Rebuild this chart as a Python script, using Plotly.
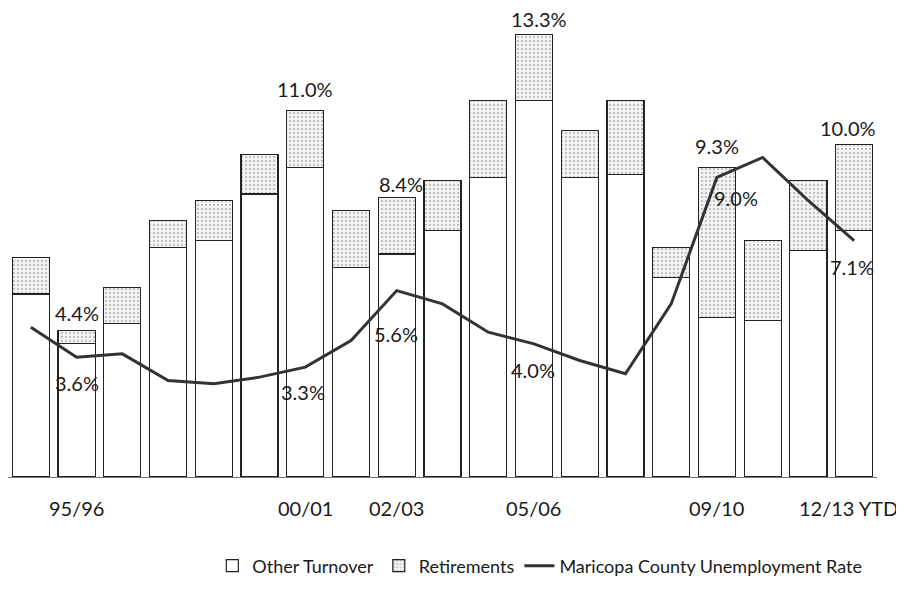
import plotly.graph_objects as go

categories = ["94/95", "95/96", "96/97", "97/98", "98/99", "99/00", "00/01", "01/02",
              "02/03", "03/04", "04/05", "05/06", "06/07", "07/08", "08/09", "09/10",
              "10/11", "11/12", "12/13 YTD"]
other_turnover = [5.5, 4.0, 4.6, 6.9, 7.1, 8.5, 9.3, 6.3, 6.7, 7.4, 9.0, 11.3, 9.0, 9.1, 6.0, 4.8, 4.7, 6.8, 7.4]
retirements = [1.1, 0.4, 1.1, 0.8, 1.2, 1.2, 1.7, 1.7, 1.7, 1.5, 2.3, 2.0, 1.4, 2.2, 0.9, 4.5, 2.4, 2.1, 2.6]
unemployment = [4.5, 3.6, 3.7, 2.9, 2.8, 3.0, 3.3, 4.1, 5.6, 5.2, 4.35, 4.0, 3.5, 3.1, 5.2, 9.0, 9.6, 8.3, 7.1]

tick_labels = ["95/96", "00/01", "02/03", "05/06", "09/10", "12/13 YTD"]
total_labels = {"95/96": "4.4%", "00/01": "11.0%", "02/03": "8.4%", "05/06": "13.3%",
                "09/10": "9.3%", "12/13 YTD": "10.0%"}
rate_labels = {"95/96": "3.6%", "00/01": "3.3%", "02/03": "5.6%", "05/06": "4.0%",
               "09/10": "9.0%", "12/13 YTD": "7.1%"}

FONT = "Lato, 'Open Sans', sans-serif"
TXT = "#1a1a1a"

fig = go.Figure()
fig.add_trace(go.Bar(
    x=categories, y=other_turnover, name="Other Turnover",
    marker=dict(color="white", line=dict(color="#222", width=1.2)),
))
fig.add_trace(go.Bar(
    x=categories, y=retirements, name="Retirements",
    marker=dict(color="#f4f4f4", line=dict(color="#222", width=1.2),
                pattern=dict(shape=".", fgcolor="#8a8a8a", bgcolor="#f4f4f4",
                             size=4, solidity=0.25)),
))
fig.add_trace(go.Scatter(
    x=categories, y=unemployment, name="Maricopa County Unemployment Rate",
    mode="lines", line=dict(color="#333", width=3),
))

totals = [o + r for o, r in zip(other_turnover, retirements)]
total_shift = {"95/96": 18, "00/01": 22, "02/03": 13, "05/06": 15, "09/10": 21, "12/13 YTD": 16}
total_xshift = {"02/03": 4, "05/06": 5, "12/13 YTD": -6}
for c, t in total_labels.items():
    i = categories.index(c)
    fig.add_annotation(x=c, y=totals[i], text=t, showarrow=False, borderpad=0,
                       yanchor="middle", yshift=total_shift[c], xshift=total_xshift.get(c, 0),
                       font=dict(family=FONT, size=20, color=TXT))

rate_shift = {"95/96": (0, -26), "00/01": (-2, -25), "02/03": (-1, -43), "05/06": (-1, -26),
              "09/10": (19, -21), "12/13 YTD": (-2, -26)}
for c, t in rate_labels.items():
    i = categories.index(c)
    dx, dy = rate_shift[c]
    fig.add_annotation(x=c, y=unemployment[i], text=t, showarrow=False, borderpad=0,
                       yanchor="middle", xshift=dx, yshift=dy,
                       font=dict(family=FONT, size=20, color=TXT))

# category labels under the axis (last one nudged left to stay inside the page)
for c in tick_labels:
    fig.add_annotation(x=c, xref="x", y=0, yref="paper", text=c, showarrow=False,
                       borderpad=0, yanchor="middle", yshift=-31,
                       xshift=-6 if c == tick_labels[-1] else 0,
                       font=dict(family=FONT, size=20, color=TXT))

# page body adds an 8px offset, so the figure is 8px smaller on each axis
fig.update_layout(
    width=896, height=597,
    barmode="stack", bargap=0.19,
    plot_bgcolor="white", paper_bgcolor="white",
    margin=dict(l=0, r=27, t=3, b=128, autoexpand=False),
    font=dict(family=FONT, size=20, color=TXT),
    showlegend=True,
    legend=dict(orientation="h", x=0.612, xanchor="center", y=-0.191, yanchor="middle",
                font=dict(family=FONT, size=18, color=TXT), traceorder="normal",
                itemwidth=30),
    xaxis=dict(type="category", range=[-0.5, 18.5], showgrid=False, automargin=False,
               showline=True, linecolor="#777", linewidth=1,
               showticklabels=False, ticks=""),
    yaxis=dict(range=[0, 14], visible=False, showgrid=False, zeroline=False, automargin=False),
)

fig.write_html("out.html")
